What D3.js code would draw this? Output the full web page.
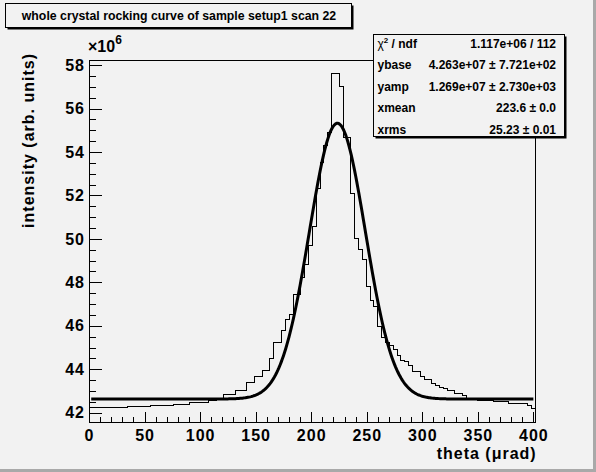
<!DOCTYPE html>
<html>
<head>
<meta charset="utf-8">
<script src="https://cdn.jsdelivr.net/npm/d3@7"></script>
<style>
  body { margin: 0; background: #f2f2f2; }
  svg { display: block; font-family: "Liberation Sans", Arial, Helvetica, sans-serif; font-weight: bold; }
</style>
</head>
<body>
<svg id="canvas" width="596" height="472"></svg>
<script>
// histogram: equal bins over [xLow, xHigh] (urad), contents in units of 1e6
const xLow = 0, xHigh = 402.1;
const counts = [
  42.25, 42.25, 42.25, 42.25, 42.25, 42.25, 42.25, 42.25, 42.25, 42.25,
  42.29, 42.29, 42.29, 42.29, 42.29, 42.29,
  42.34, 42.34, 42.34, 42.34, 42.34, 42.34,
  42.40, 42.40, 42.40, 42.40,
  42.46, 42.46, 42.46, 42.46, 42.46,
  42.57, 42.57, 42.66, 42.66,
  42.86, 42.86, 42.86, 43.04, 43.04, 43.04,
  43.40, 43.40, 43.66, 43.66, 43.93, 43.93,
  44.50, 45.22, 45.22, 45.77, 46.30, 46.50, 47.45, 47.45, 48.23, 48.83,
  49.70, 50.55, 52.30, 53.50, 54.30, 54.90,
  57.60, 57.60, 57.00, 54.67, 54.67, 52.08,
  50.00, 49.50, 49.07, 47.80, 47.15, 46.90, 45.99, 45.44, 45.24, 45.10,
  44.89, 44.65, 44.40, 44.35, 44.15,
  43.89, 43.89, 43.66, 43.54, 43.54, 43.35, 43.23, 43.15, 43.12,
  43.00, 43.00, 42.89, 42.89, 42.77,
  42.66, 42.66, 42.66, 42.58, 42.58, 42.58, 42.58,
  42.51, 42.51, 42.51, 42.51,
  42.43, 42.43, 42.43, 42.43, 42.43, 42.35, 42.20
];

const xTicks = [0, 50, 100, 150, 200, 250, 300, 350, 400];
const yTicks = [42, 44, 46, 48, 50, 52, 54, 56, 58];

// fit results (gaussian on a flat base)
const fitNames = ["ybase", "yamp", "xmean", "xrms"];
const fitValues = [4.263e7, 1.269e7, 223.6, 25.23];
const fitRange = [2, 400];

const statLabels = ["χ2 / ndf", "ybase", "yamp", "xmean", "xrms"];
const statTexts = ["1.117e+06 / 112", "4.263e+07 ± 7.721e+02", "1.269e+07 ± 2.730e+03", "223.6 ± 0.0", "25.23 ± 0.01"];

const title = "whole crystal rocking curve of sample setup1 scan 22";
const xTitle = "theta (μrad)";
const yTitle = "intensity (arb. units)";

const W = 596, H = 472;
const frame = { l: 89, r: 535.7, t: 60.7, b: 422.7 };

const svg = d3.select("#canvas");

// pad background + bevel
svg.append("rect").attr("width", W).attr("height", H).attr("fill", "#f2f2f2");
svg.append("rect").attr("x", 593).attr("y", 0).attr("width", 3).attr("height", H).attr("fill", "#a9a9a9");
svg.append("rect").attr("x", 0).attr("y", 469).attr("width", W).attr("height", 3).attr("fill", "#a9a9a9");

const x = d3.scaleLinear().domain([xLow, xHigh]).range([frame.l, frame.r]);
const y = d3.scaleLinear().domain([41.54, 58.2]).range([frame.b, frame.t]);

const binW = (xHigh - xLow) / counts.length;

// histogram as a step line
const pts = counts.map((c, i) => [xLow + i * binW, c]);
pts.push([xHigh, counts[counts.length - 1]]);
svg.append("path")
  .attr("d", d3.line().x(d => x(d[0])).y(d => y(d[1])).curve(d3.curveStepAfter)(pts))
  .attr("fill", "none")
  .attr("stroke", "#000")
  .attr("stroke-width", 1)
  .attr("shape-rendering", "crispEdges");

// fit curve
const [ybase, yamp, xmean, xrms] = fitValues;
const fitPts = d3.range(fitRange[0], fitRange[1] + 0.001, 1).map(t =>
  [t, (ybase + yamp * Math.exp(-0.5 * ((t - xmean) / xrms) ** 2)) / 1e6]);
svg.append("path")
  .attr("d", d3.line().x(d => x(d[0])).y(d => y(d[1]))(fitPts))
  .attr("fill", "none")
  .attr("stroke", "#000")
  .attr("stroke-width", 3);

// frame
svg.append("rect")
  .attr("x", frame.l).attr("y", frame.t)
  .attr("width", frame.r - frame.l).attr("height", frame.b - frame.t)
  .attr("fill", "none").attr("stroke", "#000")
  .attr("shape-rendering", "crispEdges");

// axes, ticks drawn inwards like ROOT
const xMinor = d3.range(0, 401, 10).filter(v => v % 50 !== 0);
const yMinor = d3.range(42, 58.01, 0.5).filter(v => v % 2 !== 0);

function styleAxis(g) {
  g.select(".domain").remove();
  g.selectAll("line").attr("stroke", "#000").attr("shape-rendering", "crispEdges");
  g.selectAll("text")
    .attr("fill", "#000")
    .style("font-family", "'Liberation Sans', Arial, sans-serif")
    .style("font-weight", "bold")
    .style("font-size", "16px")
    .style("letter-spacing", "1px");
}

svg.append("g").attr("transform", `translate(0,${frame.b})`)
  .call(d3.axisBottom(x).tickValues(xMinor).tickSize(-5.4).tickFormat(""))
  .call(styleAxis);
svg.append("g").attr("transform", `translate(0,${frame.b})`)
  .call(d3.axisBottom(x).tickValues(xTicks).tickSize(-10.9).tickPadding(7).tickFormat(d3.format("d")))
  .call(styleAxis);

svg.append("g").attr("transform", `translate(${frame.l},0)`)
  .call(d3.axisLeft(y).tickValues(yMinor).tickSize(-6.7).tickFormat(""))
  .call(styleAxis);
svg.append("g").attr("transform", `translate(${frame.l},0)`)
  .call(d3.axisLeft(y).tickValues(yTicks).tickSize(-13.4).tickPadding(4).tickFormat(d3.format("d")))
  .call(styleAxis);

// exponent label
const expo = svg.append("text").attr("x", frame.l - 1).attr("y", 51.7)
  .style("font-size", "16px");
expo.append("tspan").text("×10");
expo.append("tspan").attr("dy", -8).style("font-size", "12px").text("6");

// axis titles
svg.append("text")
  .attr("x", frame.r + 1).attr("y", 459)
  .attr("text-anchor", "end")
  .style("font-size", "16px").style("letter-spacing", "1px")
  .text(xTitle);

svg.append("text")
  .attr("transform", "translate(33.5,53) rotate(-90)")
  .attr("text-anchor", "end")
  .style("font-size", "16px").style("letter-spacing", "1px")
  .text(yTitle);

// title box
svg.append("rect").attr("x", 7.5).attr("y", 5.5).attr("width", 346).attr("height", 24).attr("fill", "#000");
svg.append("rect").attr("x", 5.5).attr("y", 3.5).attr("width", 346).attr("height", 24)
  .attr("fill", "#f2f2f2").attr("stroke", "#000").attr("shape-rendering", "crispEdges");
svg.append("text").attr("x", 179).attr("y", 19.5).attr("text-anchor", "middle")
  .style("font-size", "12.3px").text(title);

// stats box
const sb = { x: 373.5, y: 34.5, w: 191, h: 102 };
svg.append("rect").attr("x", sb.x + 2).attr("y", sb.y + 2).attr("width", sb.w).attr("height", sb.h).attr("fill", "#000");
svg.append("rect").attr("x", sb.x).attr("y", sb.y).attr("width", sb.w).attr("height", sb.h)
  .attr("fill", "#f2f2f2").attr("stroke", "#000").attr("shape-rendering", "crispEdges");

const rowY = d3.scaleLinear().domain([0, 4]).range([43.3, 129.3]);
statLabels.forEach((lab, i) => {
  const t = svg.append("text").attr("x", 377.5).attr("y", rowY(i) + 4.3).style("font-size", "12px");
  if (i === 0) {
    t.append("tspan").style("font-weight", "normal").text("χ");
    t.append("tspan").attr("dy", -5).style("font-size", "8px").text("2");
    t.append("tspan").attr("dy", 5).text(" / ndf");
  } else {
    t.text(lab);
  }
  svg.append("text").attr("x", 556).attr("y", rowY(i) + 4.3)
    .attr("text-anchor", "end").style("font-size", "12px").text(statTexts[i]);
});
</script>
</body>
</html>
